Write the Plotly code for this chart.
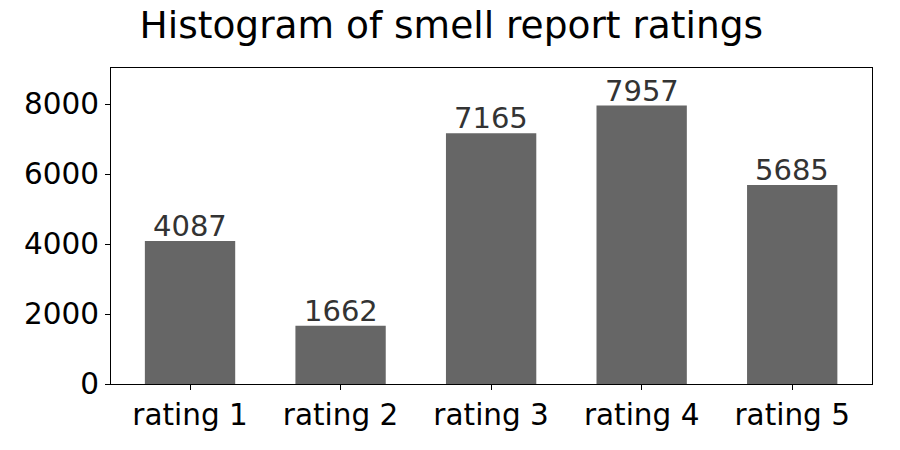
import plotly.graph_objects as go

categories = ["rating 1", "rating 2", "rating 3", "rating 4", "rating 5"]
counts = [4087, 1662, 7165, 7957, 5685]

fig = go.Figure(
    go.Bar(
        x=categories,
        y=counts,
        width=0.6,
        marker=dict(color="#666666", line=dict(width=0)),
    )
)

# value labels sitting right on top of each bar
for cat, val in zip(categories, counts):
    fig.add_annotation(
        x=cat,
        y=val,
        text=str(val),
        showarrow=False,
        yanchor="bottom",
        yshift=-4,
        font=dict(family="DejaVu Sans", size=29, color="#333333"),
    )

# the page body has an 8px margin, so the figure is sized 892x442
fig.update_layout(
    width=892,
    height=442,
    margin=dict(l=103, r=28, t=60, b=66),
    paper_bgcolor="white",
    plot_bgcolor="white",
    font=dict(family="DejaVu Sans", size=29.5, color="black"),
    title=dict(
        text="Histogram of smell report ratings",
        x=0.497,
        xanchor="center",
        xref="container",
        y=0.962,
        yanchor="middle",
        font=dict(size=37.5, color="black"),
    ),
    showlegend=False,
)

fig.update_xaxes(
    range=[-0.525, 4.53],
    showline=True,
    linecolor="black",
    linewidth=1,
    mirror=True,
    ticks="outside",
    ticklen=5,
    tickcolor="black",
    showgrid=False,
)
fig.update_yaxes(
    range=[0, 9030],
    tickvals=[0, 2000, 4000, 6000, 8000],
    showline=True,
    linecolor="black",
    linewidth=1,
    mirror=True,
    ticks="outside",
    ticklen=5,
    tickcolor="black",
    showgrid=False,
    zeroline=False,
)

fig.write_html("out.html")
